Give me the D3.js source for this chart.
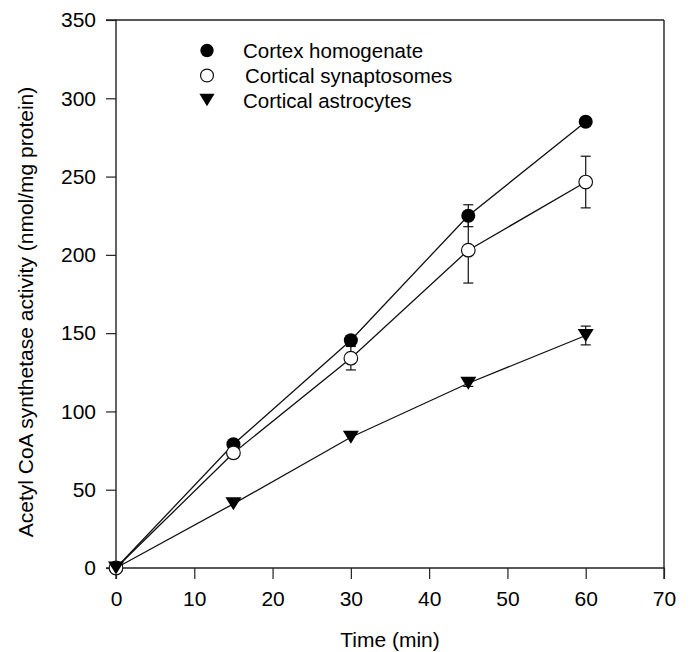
<!DOCTYPE html>
<html>
<head>
<meta charset="utf-8">
<script src="https://cdn.jsdelivr.net/npm/d3@7"></script>
<style>
  html, body { margin: 0; padding: 0; background: #fff; }
  svg { display: block; font-family: "Liberation Sans", Arial, sans-serif; }
</style>
</head>
<body>
<svg id="chart" width="691" height="652"></svg>
<script>
// ---- data ----
const times = [0, 15, 30, 45, 60];
const homogenate = [0, 79, 145.5, 225, 285];
const synaptosomes = [0, 73.5, 134, 203, 246.5];
const astrocytes = [0, 41, 83.5, 118, 148.5];
const homogenateErr = [0, 0, 0, 7, 0];
const synaptosomesErr = [0, 0, 7.5, 21, 16.5];
const astrocytesErr = [0, 0, 0, 2, 6];
const seriesNames = ["Cortex homogenate", "Cortical synaptosomes", "Cortical astrocytes"];
const xTicks = [0, 10, 20, 30, 40, 50, 60, 70];
const yTicks = [0, 50, 100, 150, 200, 250, 300, 350];
const xTitle = "Time (min)";
const yTitle = "Acetyl CoA synthetase activity (nmol/mg protein)";

// ---- layout ----
const svg = d3.select("#chart");
const L = 116, R = 664, T = 20, B = 568;
const x = d3.scaleLinear().domain([0, 70]).range([L, R]);
const y = d3.scaleLinear().domain([0, 350]).range([B, T]);
const FS = 21;

const series = [
  { name: seriesNames[0], vals: homogenate, err: homogenateErr, type: "filled" },
  { name: seriesNames[1], vals: synaptosomes, err: synaptosomesErr, type: "open" },
  { name: seriesNames[2], vals: astrocytes, err: astrocytesErr, type: "tri" }
];

// frame (top + right)
svg.append("line").attr("x1", L).attr("x2", R).attr("y1", T).attr("y2", T)
  .attr("stroke", "#222").attr("stroke-width", 1.4);
svg.append("line").attr("x1", R).attr("x2", R).attr("y1", T).attr("y2", B)
  .attr("stroke", "#222").attr("stroke-width", 1.4);

// axes
const xAxis = svg.append("g").attr("transform", `translate(0,${B})`)
  .call(d3.axisBottom(x).tickValues(xTicks).tickSize(11).tickPadding(12).tickFormat(d3.format("d")));
const yAxis = svg.append("g").attr("transform", `translate(${L},0)`)
  .call(d3.axisLeft(y).tickValues(yTicks).tickSize(10).tickPadding(10).tickFormat(d3.format("d")));
[xAxis, yAxis].forEach(g => {
  g.select(".domain").attr("stroke", "#222").attr("stroke-width", 1.4);
  g.selectAll(".tick line").attr("stroke", "#222").attr("stroke-width", 1.2);
  g.selectAll("text").attr("font-size", FS).attr("fill", "#000")
    .attr("font-family", "'Liberation Sans', Arial, sans-serif");
});
yAxis.select(".domain").attr("d", `M-10,${B}H0V${T}H-10`);
xAxis.select(".domain").attr("d", `M${L},11V0H${R}V11`);

// titles
svg.append("text").attr("x", 390).attr("y", 647).attr("text-anchor", "middle")
  .attr("font-size", FS).text(xTitle);
svg.append("text").attr("transform", "translate(33,312) rotate(-90)")
  .attr("text-anchor", "middle").attr("font-size", FS).text(yTitle);

// error bars
const capW = 5;
series.forEach(s => {
  s.vals.forEach((v, i) => {
    const e = s.err[i];
    if (!e) return;
    const g = svg.append("g").attr("stroke", "#111").attr("stroke-width", 1.2);
    const cx = x(times[i]);
    g.append("line").attr("x1", cx).attr("x2", cx).attr("y1", y(v - e)).attr("y2", y(v + e));
    g.append("line").attr("x1", cx - capW).attr("x2", cx + capW).attr("y1", y(v - e)).attr("y2", y(v - e));
    g.append("line").attr("x1", cx - capW).attr("x2", cx + capW).attr("y1", y(v + e)).attr("y2", y(v + e));
  });
});

// lines
const lineGen = d3.line().x((d, i) => x(times[i])).y(d => y(d));
series.forEach(s => {
  svg.append("path").datum(s.vals).attr("d", lineGen)
    .attr("fill", "none").attr("stroke", "#111").attr("stroke-width", 1.3);
});

// markers
function drawMarker(g, type, cx, cy, scale = 1) {
  if (type === "filled") {
    g.append("circle").attr("cx", cx).attr("cy", cy).attr("r", 7 * scale).attr("fill", "#000");
  } else if (type === "open") {
    g.append("circle").attr("cx", cx).attr("cy", cy).attr("r", 6.8 * scale)
      .attr("fill", "#fff").attr("stroke", "#111").attr("stroke-width", 1.2);
  } else {
    const w = 8 * scale, h = 6.5 * scale;
    g.append("path").attr("d", `M${cx - w},${cy - h}L${cx + w},${cy - h}L${cx},${cy + h}Z`).attr("fill", "#000");
  }
}
series.forEach(s => {
  const g = svg.append("g");
  s.vals.forEach((v, i) => drawMarker(g, s.type, x(times[i]), y(v)));
});

// legend
const legY = [50.5, 75.5, 100];
const legTextX = [243, 245, 243];
series.forEach((s, i) => {
  const g = svg.append("g");
  drawMarker(g, s.type, 207, legY[i], 0.95);
  svg.append("text").attr("x", legTextX[i]).attr("y", legY[i] + 7.5)
    .attr("font-size", 20.5).text(s.name);
});
</script>
</body>
</html>
